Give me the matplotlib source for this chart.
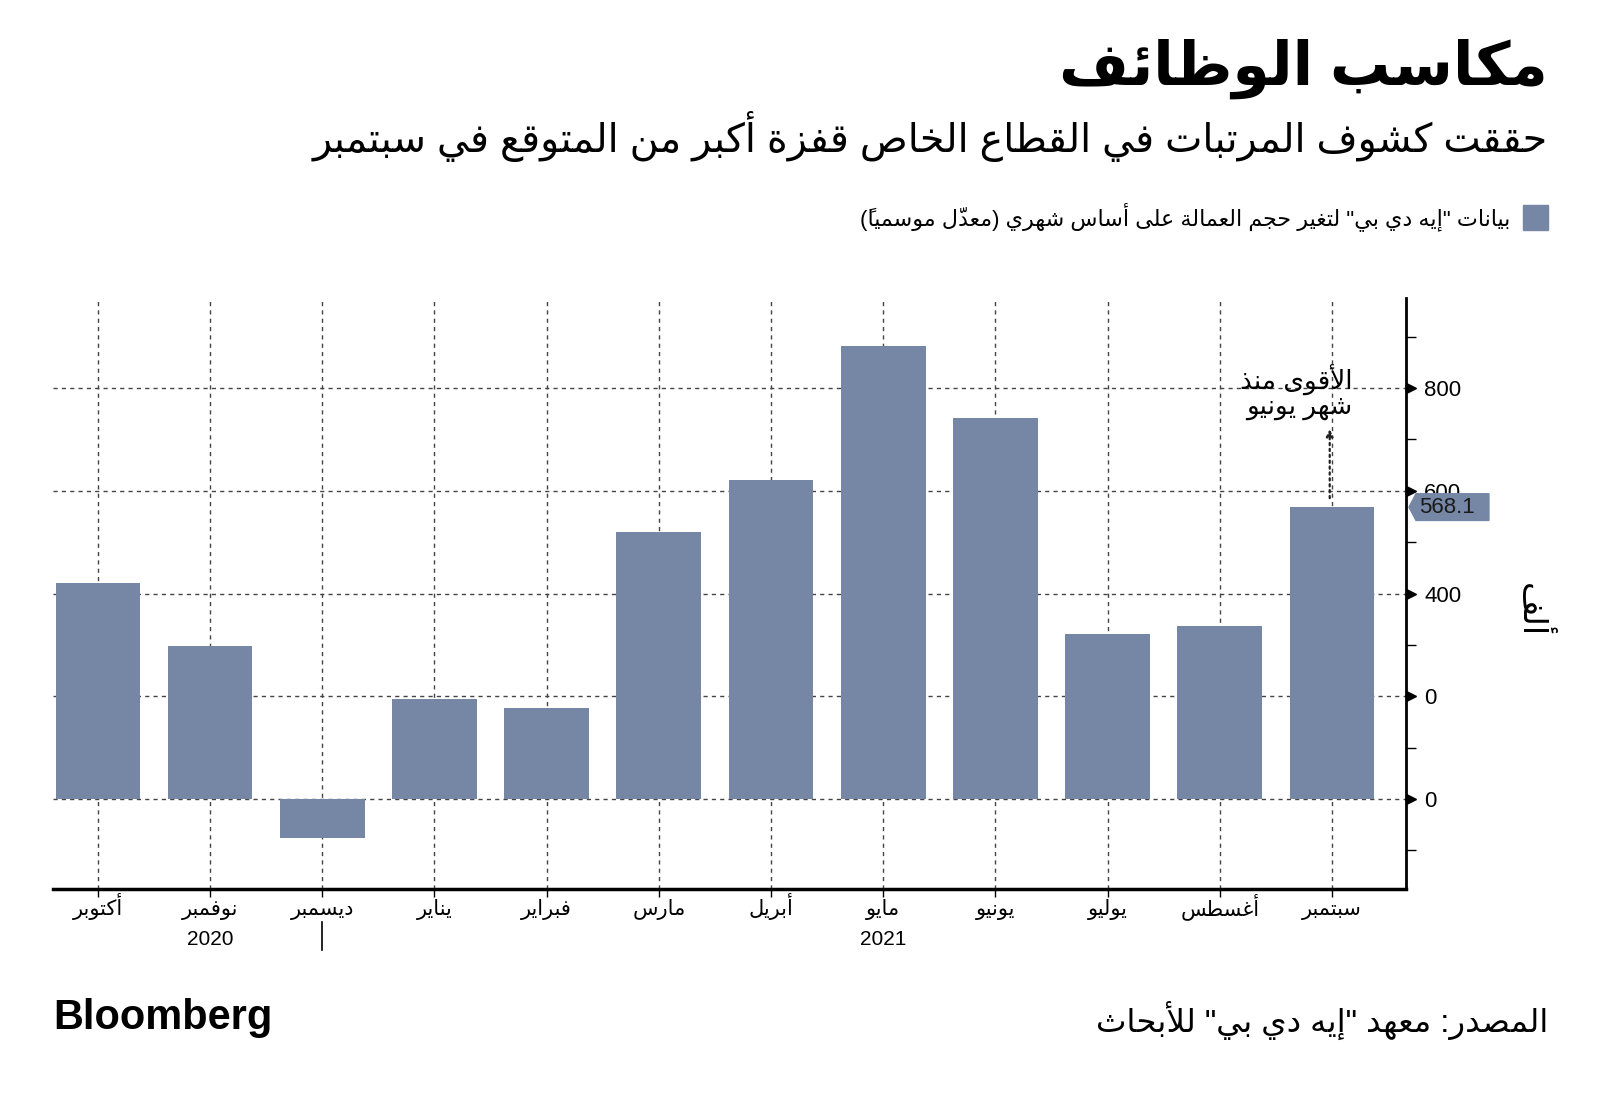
import numpy as np
import matplotlib
matplotlib.use('Agg')
import matplotlib.pyplot as plt
from matplotlib.patches import Rectangle, Polygon

plt.rcParams['font.family'] = ['Liberation Sans', 'DejaVu Sans']

# data (thousands, monthly change)
months = ['أكتوبر', 'نوفمبر', 'ديسمبر', 'يناير', 'فبراير', 'مارس',
          'أبريل', 'مايو', 'يونيو', 'يوليو', 'أغسطس', 'سبتمبر']
values = [420, 297, -75, 194, 178, 519, 620, 881, 741, 321, 337, 568.1]
year_labels = ['2020', '2021']
year_idx = [1, 7]
ytick_vals = [0, 200, 400, 600, 800]
ytick_labels = ['0', '0', '400', '600', '800']

title = 'مكاسب الوظائف'
subtitle = 'حققت كشوف المرتبات في القطاع الخاص قفزة أكبر من المتوقع في سبتمبر'
legend_txt = 'بيانات "إيه دي بي" لتغير حجم العمالة على أساس شهري (معدّل موسمياً)'
note_txt = ['الأقوى منذ', 'شهر يونيو']
unit_txt = 'ألف'
source_txt = 'المصدر: معهد "إيه دي بي" للأبحاث'

BAR = '#7587a5'

# --- tiny arabic shaper (presentation forms + visual order) ---
_letters = [
    ('\u0621', 0xFE80, 0), ('\u0622', 0xFE81, 1), ('\u0623', 0xFE83, 1),
    ('\u0624', 0xFE85, 1), ('\u0625', 0xFE87, 1), ('\u0626', 0xFE89, 2),
    ('\u0627', 0xFE8D, 1), ('\u0628', 0xFE8F, 2), ('\u0629', 0xFE93, 1),
    ('\u062A', 0xFE95, 2), ('\u062B', 0xFE99, 2), ('\u062C', 0xFE9D, 2),
    ('\u062D', 0xFEA1, 2), ('\u062E', 0xFEA5, 2), ('\u062F', 0xFEA9, 1),
    ('\u0630', 0xFEAB, 1), ('\u0631', 0xFEAD, 1), ('\u0632', 0xFEAF, 1),
    ('\u0633', 0xFEB1, 2), ('\u0634', 0xFEB5, 2), ('\u0635', 0xFEB9, 2),
    ('\u0636', 0xFEBD, 2), ('\u0637', 0xFEC1, 2), ('\u0638', 0xFEC5, 2),
    ('\u0639', 0xFEC9, 2), ('\u063A', 0xFECD, 2), ('\u0641', 0xFED1, 2),
    ('\u0642', 0xFED5, 2), ('\u0643', 0xFED9, 2), ('\u0644', 0xFEDD, 2),
    ('\u0645', 0xFEE1, 2), ('\u0646', 0xFEE5, 2), ('\u0647', 0xFEE9, 2),
    ('\u0648', 0xFEED, 1), ('\u0649', 0xFEEF, 1), ('\u064A', 0xFEF1, 2),
]
AR = {c: (b, t) for c, b, t in _letters}
MARKS = set('\u064B\u064C\u064D\u064E\u064F\u0650\u0651\u0652')
LAM_ALEF = {'\u0622': 0xFEF5, '\u0623': 0xFEF7, '\u0625': 0xFEF9, '\u0627': 0xFEFB}
MIRROR = {'(': ')', ')': '('}


def shape(s):
    toks = []
    for ch in s:
        if ch in MARKS and toks:
            toks[-1][1] += ch
        else:
            toks.append([ch, ''])
    merged = []
    i = 0
    while i < len(toks):
        c, m = toks[i]
        if c == '\u0644' and i + 1 < len(toks) and toks[i + 1][0] in LAM_ALEF:
            merged.append(['LA' + toks[i + 1][0], m + toks[i + 1][1]])
            i += 2
        else:
            merged.append([c, m])
            i += 1

    def j_left(c):
        return (not c.startswith('LA')) and c in AR and AR[c][1] == 2

    def j_right(c):
        return c.startswith('LA') or (c in AR and AR[c][1] >= 1)

    glyphs = []
    for k, (c, m) in enumerate(merged):
        prev = merged[k - 1][0] if k > 0 else None
        nxt = merged[k + 1][0] if k + 1 < len(merged) else None
        jp = prev is not None and j_left(prev) and j_right(c)
        jn = nxt is not None and j_left(c) and j_right(nxt)
        if c.startswith('LA'):
            g = chr(LAM_ALEF[c[2]] + (1 if jp else 0))
        elif c in AR:
            b, t = AR[c]
            if t == 0:
                g = chr(b)
            elif t == 1:
                g = chr(b + (1 if jp else 0))
            elif jp and jn:
                g = chr(b + 3)
            elif jp:
                g = chr(b + 1)
            elif jn:
                g = chr(b + 2)
            else:
                g = chr(b)
        else:
            g = MIRROR.get(c, c)
        # zero-width marks draw to the right of the pen, so put them first
        glyphs.append((m + g, c.isascii() and (c.isalnum() or c == '.')))
    # reverse, but keep latin / digit runs left-to-right
    runs = []
    for g, ltr in glyphs:
        if ltr and runs and runs[-1][1]:
            runs[-1][0].append(g)
        else:
            runs.append(([g], ltr))
    return ''.join(''.join(r) for r, _ in reversed(runs))


fig = plt.figure(figsize=(16, 10.97), dpi=100)
W, H = 1600, 1097
ax = fig.add_axes([53 / W, 1 - 889 / H, 1353 / W, 591 / H])

x = np.arange(len(months))
ax.bar(x, values, width=0.755, color=BAR, zorder=3)
ax.set_xlim(-0.4, 11.66)
ax.set_ylim(-175, 975)
ax.set_axisbelow(True)

for s in ['top', 'left']:
    ax.spines[s].set_visible(False)
ax.spines['bottom'].set_linewidth(2.5)
ax.spines['right'].set_linewidth(2)

ax.yaxis.tick_right()
ax.set_yticks(ytick_vals)
ax.set_yticklabels(ytick_labels)
ax.set_yticks(np.arange(-100, 1000, 200), minor=True)
ax.tick_params(axis='y', which='major', length=0, pad=13, labelsize=16)
ax.tick_params(axis='y', which='minor', length=7, width=1, direction='out')
ax.set_xticks(x)
ax.set_xticklabels([])
ax.tick_params(axis='x', length=6, width=1)
ax.grid(which='major', linestyle=(0, (3, 3)), color='#444444', linewidth=1)

ytr = ax.get_yaxis_transform()
xtr = ax.get_xaxis_transform()
ax.plot([1.004] * len(ytick_vals), ytick_vals, transform=ytr, marker='>', ms=7,
        ls='none', color='black', clip_on=False)

# month labels on a common baseline
for i, m in enumerate(months):
    ax.text(i, -0.044, shape(m), transform=xtr, ha='center', va='baseline',
            fontsize=15)
for lab, i in zip(year_labels, year_idx):
    ax.text(i, -0.094, lab, transform=xtr, ha='center', va='baseline', fontsize=15)
ax.plot([2, 2], [-0.056, -0.103], transform=xtr, color='black', lw=1.2, clip_on=False)

# annotation for latest month
last = len(values) - 1
ax.annotate('', xy=(last - 0.02, 725), xytext=(last - 0.02, values[-1] + 12),
            arrowprops=dict(arrowstyle='-|>', ls=':', color='#222222', lw=1.6,
                            mutation_scale=10))
ax.text(last + 0.18, 792, '\n'.join(shape(l) for l in note_txt), ha='right',
        va='center', fontsize=19, linespacing=0.95, multialignment='right')

# value callout on the axis
v = values[-1]
ax.add_patch(Polygon([(1.0022, v), (1.0074, v + 26), (1.0613, v + 26),
                      (1.0613, v - 26), (1.0074, v - 26)], closed=True,
                     transform=ytr, color=BAR, clip_on=False, zorder=5))
ax.text(1.0096, v, f'{v:.1f}', transform=ytr, ha='left', va='center',
        fontsize=16, color='#1a1a1a', zorder=6)

fig.text(1531 / W, 1 - 610 / H, shape(unit_txt), rotation=270, fontsize=24,
         ha='center', va='center')

# header / legend / footer
t_title = fig.text(1548 / W, 1 - 69 / H, shape(title), ha='right', va='center',
                   fontsize=44, fontweight='bold')
t_sub = fig.text(1548 / W, 1 - 136 / H, shape(subtitle), ha='right', va='center',
                 fontsize=26)
fig.add_artist(Rectangle((1523 / W, 1 - 230 / H), 25 / W, 25 / H,
                         transform=fig.transFigure, color=BAR))
t_leg = fig.text(1510 / W, 1 - 217 / H, shape(legend_txt), ha='right', va='center',
                 fontsize=14)
t_bb = fig.text(53 / W, 1 - 1018 / H, 'Bloomberg', ha='left', va='center',
                fontsize=28, fontweight='bold')
t_src = fig.text(1548 / W, 1 - 1020 / H, shape(source_txt), ha='right', va='center',
                 fontsize=18)

fig.canvas.draw()
rend = fig.canvas.get_renderer()
for t, target in [(t_title, 490), (t_sub, 1235), (t_leg, 655), (t_bb, 219), (t_src, 451)]:
    w = t.get_window_extent(rend).width
    t.set_fontsize(t.get_fontsize() * target / w)

fig.savefig('out.png', dpi=100, facecolor='white')
